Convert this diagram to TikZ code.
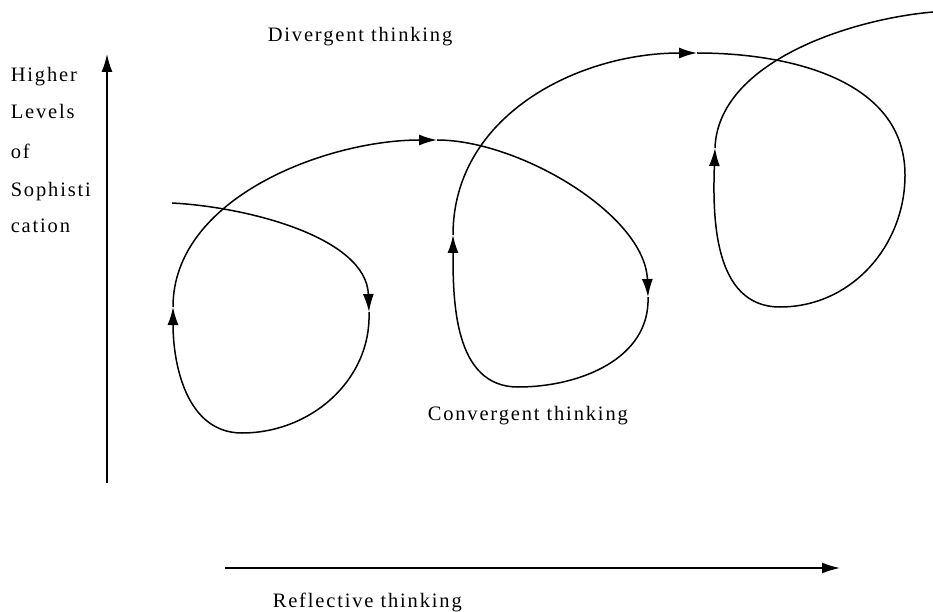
\documentclass[tikz,border=0pt]{standalone}
\usepackage{fontspec}
\setmainfont{Liberation Serif}[LetterSpace=9]
\usetikzlibrary{arrows.meta}

\begin{document}
\begin{tikzpicture}[x=1pt,y=1pt,line width=1.5pt,
  tip/.style={-{Latex[length=18pt,width=11pt]}},
  lbl/.style={anchor=base west,inner sep=0pt,font=\fontsize{20.5}{24}\selectfont}]
\useasboundingbox (0,0) rectangle (933,611);
% axes
\coordinate (ybot) at (107,128);
\coordinate (ytop) at (107,557);
\coordinate (xl) at (225,43);
\coordinate (xr) at (840,43);
\draw[tip] (ybot) -- (ytop);
\draw[tip] (xl) -- (xr);
% labels
\node[lbl] (div) at (267,569) {Divergent thinking};
\node[lbl] (conv) at (427,191) {Convergent thinking};
\node[lbl] (refl) at (272,4) {Reflective thinking};
\node[lbl] (hi) at (10,529) {Higher};
\node[lbl] (lev) at (10,492) {Levels};
\node[lbl] (of) at (10,452) {of};
\node[lbl] (soph) at (10,414) {Sophisti};
\node[lbl] (cat) at (10,378) {cation};
% spiral
\coordinate (s0) at (172,408);
\coordinate (a1) at (369,299);
\coordinate (b1) at (242,178);
\coordinate (a2) at (173,304);
\coordinate (a3) at (437,471);
\coordinate (a4) at (648,314);
\coordinate (b2) at (518,224);
\coordinate (a5) at (453,376);
\coordinate (a6) at (697,558);
\coordinate (r3) at (905,436);
\coordinate (b3) at (780,304);
\coordinate (a7) at (715,463);
\coordinate (e) at (933,599);
\draw[tip] (s0) to[out=-3,in=92,looseness=0.85] (a1);
\draw[tip] (a1) to[out=-88,in=0] (b1) to[out=180,in=-90] (a2);
\draw[tip] (a2) to[out=90,in=180,looseness=0.9] (a3);
\draw[tip] (a3) to[out=0,in=92,looseness=0.8] (a4);
\draw[tip] (a4) to[out=-88,in=0] (b2) to[out=180,in=-90] (a5);
\draw[tip] (a5) to[out=90,in=180] (a6);
\draw[tip] (a6) to[out=0,in=90] (r3) to[out=-90,in=0] (b3) to[out=180,in=-92] (a7);
\draw (a7) to[out=88,in=185,looseness=0.85] (e);
\end{tikzpicture}
\end{document}
